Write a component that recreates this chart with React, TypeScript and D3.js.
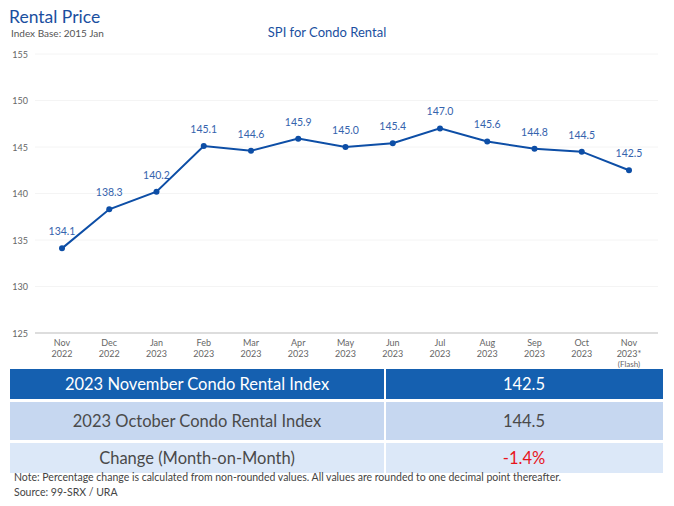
import React from "react";
import * as d3 from "d3";

const months = ["Nov", "Dec", "Jan", "Feb", "Mar", "Apr", "May", "Jun", "Jul", "Aug", "Sep", "Oct", "Nov"];
const years = ["2022", "2022", "2023", "2023", "2023", "2023", "2023", "2023", "2023", "2023", "2023", "2023", "2023*"];
const values = [134.1, 138.3, 140.2, 145.1, 144.6, 145.9, 145.0, 145.4, 147.0, 145.6, 144.8, 144.5, 142.5];
const yTicks = [125, 130, 135, 140, 145, 150, 155];
const tableRows = [
  ["2023 November Condo Rental Index", "142.5"],
  ["2023 October Condo Rental Index", "144.5"],
  ["Change (Month-on-Month)", "-1.4%"],
];

const FONT = "Lato, 'Noto Sans', sans-serif";
const BLUE = "#0d4ea6";

export default function App() {
  const W = 674, H = 506;
  const x = d3.scalePoint<number>().domain(values.map((_, i) => i)).range([62, 629]);
  const y = d3.scaleLinear().domain([125, 155]).range([333, 54]);
  const line = d3.line<number>().x((_, i) => x(i)!).y((d) => y(d));

  const rowY = [369, 402, 443];
  const rowH = [30, 38, 30];
  const rowFill = ["#1560b0", "#c6d7f0", "#dce8f8"];
  const textFill = ["#ffffff", "#4a4a4a", "#4a4a4a"];

  return (
    <svg width={W} height={H} style={{ position: "absolute", left: 0, top: 0, fontFamily: FONT }}>
      <rect width={W} height={H} fill="#fff" />
      <text x={9} y={23} fontSize={17.5} fill="#1a4fa0">Rental Price</text>
      <text x={11} y={37} fontSize={10} fill="#555">Index Base: 2015 Jan</text>
      <text x={327} y={37} fontSize={13} fill="#1a4fa0" textAnchor="middle">SPI for Condo Rental</text>

      {yTicks.map((t) => (
        <g key={t}>
          {t !== 125 && (
            <line x1={35} x2={658} y1={y(t)} y2={y(t)} stroke="#f4f4f4" strokeWidth={1} />
          )}
          <text x={28} y={y(t) + 3.5} fontSize={9} fill="#666" textAnchor="end">{t}</text>
        </g>
      ))}
      <line x1={35} x2={658} y1={y(125)} y2={y(125)} stroke="#bbb" strokeWidth={1} />

      {months.map((m, i) => (
        <g key={i}>
          <text x={x(i)!} y={346} fontSize={9} fill="#666" textAnchor="middle">{m}</text>
          <text x={x(i)!} y={357} fontSize={9} fill="#666" textAnchor="middle">{years[i]}</text>
          {i === months.length - 1 && (
            <text x={x(i)!} y={367} fontSize={8} fill="#666" textAnchor="middle">(Flash)</text>
          )}
        </g>
      ))}

      <path d={line(values)!} fill="none" stroke={BLUE} strokeWidth={2} />
      {values.map((v, i) => (
        <g key={i}>
          <circle cx={x(i)!} cy={y(v)} r={3} fill={BLUE} />
          <text x={x(i)!} y={y(v) - 13} fontSize={10.5} fill="#3563ad" textAnchor="middle">{v.toFixed(1)}</text>
        </g>
      ))}

      {tableRows.map((r, i) => (
        <g key={i}>
          <rect x={10} y={rowY[i]} width={374} height={rowH[i]} fill={rowFill[i]} />
          <rect x={386} y={rowY[i]} width={277} height={rowH[i]} fill={rowFill[i]} />
          <text x={197} y={rowY[i] + rowH[i] / 2 + 5.5} fontSize={16.5} fill={textFill[i]} textAnchor="middle">{r[0]}</text>
          <text x={524} y={rowY[i] + rowH[i] / 2 + 5.5} fontSize={16.5} fill={i === 2 ? "#e8141c" : textFill[i]} textAnchor="middle">{r[1]}</text>
        </g>
      ))}
      <text x={14} y={481} fontSize={10.5} fill="#444">Note: Percentage change is calculated from non-rounded values.  All values are rounded to one decimal point thereafter.</text>
      <text x={14} y={496} fontSize={10.5} fill="#444">Source: 99-SRX / URA</text>
    </svg>
  );
}
